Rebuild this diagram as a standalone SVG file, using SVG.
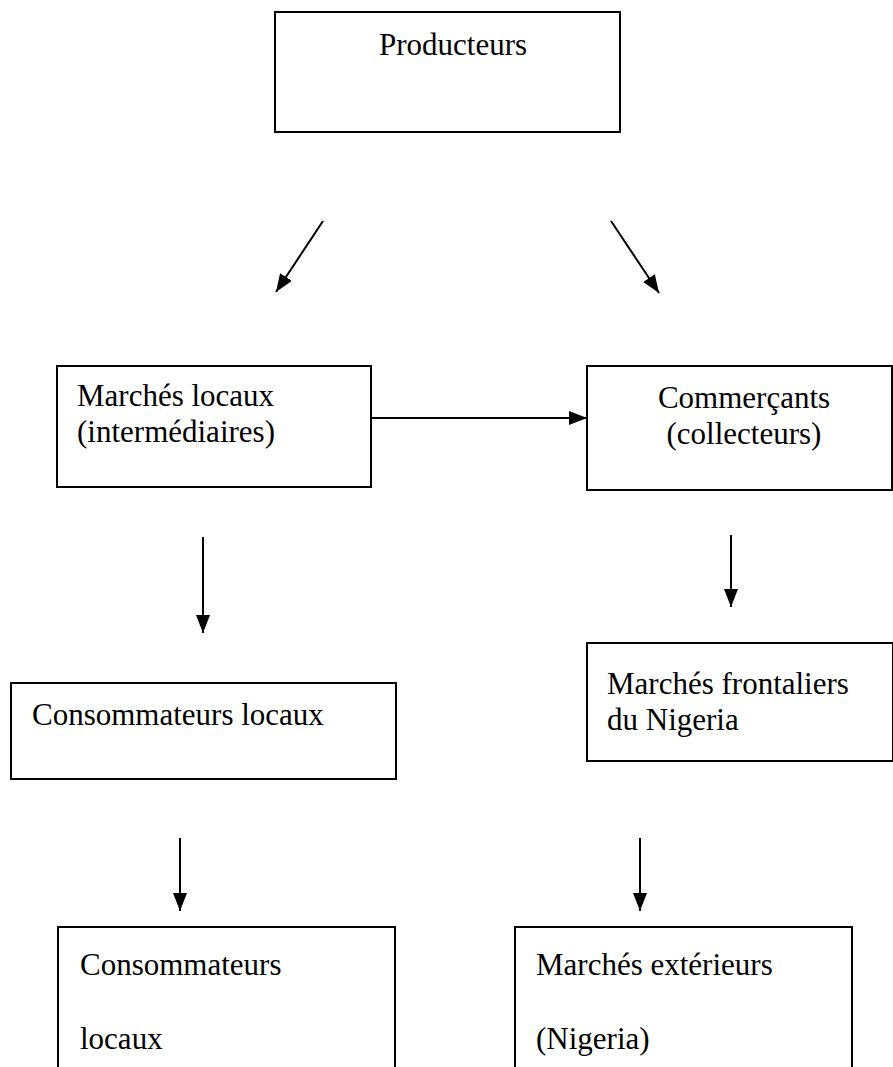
<svg xmlns="http://www.w3.org/2000/svg" width="893" height="1067" viewBox="0 0 893 1067">
<style>
.box{fill:#fff;stroke:#000;stroke-width:2}
.t{font-family:"Liberation Serif","Times New Roman",serif;font-size:31px;fill:#000}
.c{stroke:#000;stroke-width:2;fill:none}
</style>
<defs>
<marker id="ah" markerUnits="userSpaceOnUse" markerWidth="20" markerHeight="16" refX="18" refY="7" orient="auto">
<path d="M0,0 L18,7 L0,14 Z" fill="#000"/>
</marker>
</defs>
<rect width="893" height="1067" fill="#fff"/>
<g id="producteurs">
<rect class="box" x="275" y="12" width="345" height="120"/>
<text class="t" x="379" y="55">Producteurs</text>
</g>
<g id="marches-locaux">
<rect class="box" x="57" y="366" width="314" height="121"/>
<text class="t" x="77" y="406">Marchés locaux</text>
<text class="t" x="77" y="442">(intermédiaires)</text>
</g>
<g id="commercants">
<rect class="box" x="587" y="366" width="305" height="124"/>
<text class="t" x="744" y="408" text-anchor="middle">Commerçants</text>
<text class="t" x="744" y="444" text-anchor="middle">(collecteurs)</text>
</g>
<g id="consommateurs-locaux-1">
<rect class="box" x="11" y="683" width="385" height="96"/>
<text class="t" x="32" y="725">Consommateurs locaux</text>
</g>
<g id="marches-frontaliers">
<rect class="box" x="587" y="643" width="306" height="118"/>
<text class="t" x="607" y="694">Marchés frontaliers</text>
<text class="t" x="607" y="730">du Nigeria</text>
</g>
<g id="consommateurs-locaux-2">
<rect class="box" x="58" y="927" width="337" height="160"/>
<text class="t" x="80" y="975">Consommateurs</text>
<text class="t" x="80" y="1049">locaux</text>
</g>
<g id="marches-exterieurs">
<rect class="box" x="515" y="927" width="337" height="160"/>
<text class="t" x="536" y="975">Marchés extérieurs</text>
<text class="t" x="536" y="1049">(Nigeria)</text>
</g>
<g id="connectors">
<line class="c" x1="323" y1="221" x2="276" y2="292" marker-end="url(#ah)"/>
<line class="c" x1="611" y1="221" x2="659" y2="293" marker-end="url(#ah)"/>
<line class="c" x1="371" y1="418" x2="587" y2="418" marker-end="url(#ah)"/>
<line class="c" x1="203" y1="537" x2="203" y2="633" marker-end="url(#ah)"/>
<line class="c" x1="731" y1="535" x2="731" y2="607" marker-end="url(#ah)"/>
<line class="c" x1="180" y1="838" x2="180" y2="911" marker-end="url(#ah)"/>
<line class="c" x1="640" y1="838" x2="640" y2="911" marker-end="url(#ah)"/>
</g>
</svg>
